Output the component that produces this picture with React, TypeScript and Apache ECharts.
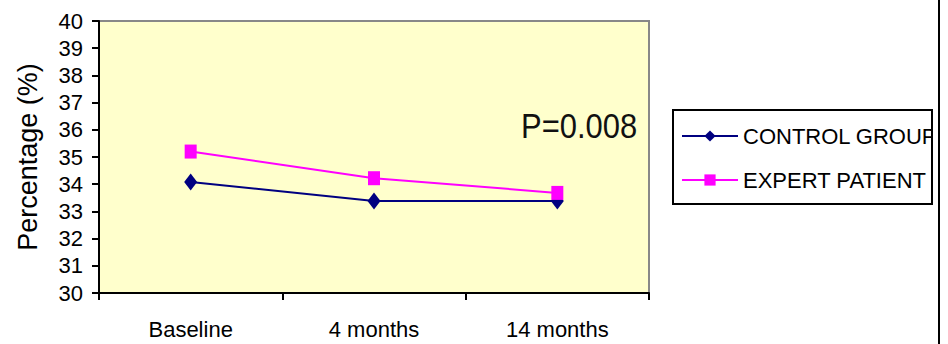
import React, { useEffect, useRef } from "react";
import * as echarts from "echarts";

const categories = ["Baseline", "4 months", "14 months"];
const controlGroup = [34.08, 33.38, 33.38];
const expertPatient = [35.2, 34.22, 33.68];
const seriesNames = ["CONTROL GROUP", "EXPERT PATIENT"];
const annotation = "P=0.008";
const yAxisTitle = "Percentage (%)";

const FONT = "'Liberation Sans', Arial, sans-serif";

export default function App() {
  const ref = useRef<HTMLDivElement>(null);
  useEffect(() => {
    document.body.style.margin = "0";
    const chart = echarts.init(ref.current!, null, { renderer: "svg" });
    chart.setOption({
      animation: false,
      backgroundColor: "#ffffff",
      textStyle: { fontFamily: FONT },
      grid: {
        left: 99,
        top: 21,
        width: 550,
        height: 272,
        show: true,
        backgroundColor: "#FFFFCC",
        borderColor: "#888888",
        borderWidth: 2,
      },
      legend: {
        orient: "vertical",
        left: 676,
        top: 120,
        itemWidth: 56,
        itemHeight: 14,
        itemGap: 22,
        data: seriesNames,
        textStyle: {
          fontFamily: FONT,
          fontSize: 22,
          color: "#000",
        },
      },
      xAxis: {
        type: "category",
        data: categories,
        boundaryGap: true,
        axisLine: { lineStyle: { color: "#000", width: 2 } },
        axisTick: { show: true, length: 7, lineStyle: { color: "#000", width: 2 } },
        axisLabel: { color: "#000", fontSize: 22, margin: 25, fontFamily: FONT },
        splitLine: { show: false },
      },
      yAxis: {
        type: "value",
        min: 30,
        max: 40,
        interval: 1,
        name: yAxisTitle,
        nameLocation: "middle",
        nameRotate: 90,
        nameGap: 58,
        nameTextStyle: { color: "#000", fontSize: 27, fontFamily: FONT },
        axisLine: { show: true, lineStyle: { color: "#000", width: 2 } },
        axisTick: { show: true, length: 7, lineStyle: { color: "#000", width: 2 } },
        axisLabel: { color: "#000", fontSize: 22, margin: 16, fontFamily: FONT },
        splitLine: { show: false },
      },
      series: [
        {
          name: seriesNames[0],
          type: "line",
          data: controlGroup,
          symbol: "diamond",
          symbolSize: [13, 17],
          lineStyle: { color: "#000080", width: 2 },
          itemStyle: { color: "#000080" },
          z: 3,
        },
        {
          name: seriesNames[1],
          type: "line",
          data: expertPatient,
          symbol: "rect",
          symbolSize: [12, 14],
          lineStyle: { color: "#FF00FF", width: 2 },
          itemStyle: { color: "#FF00FF" },
          z: 4,
        },
      ],
      graphic: [
        {
          type: "text",
          x: 521,
          y: 108,
          scaleX: 0.86,
          style: {
            text: annotation,
            fontSize: 36,
            fontFamily: FONT,
            fill: "#111",
          },
          z: 10,
        },
        {
          type: "rect",
          shape: { x: 931, y: 100, width: 7, height: 110 },
          style: { fill: "#ffffff" },
          z: 20,
        },
        {
          type: "rect",
          shape: { x: 673, y: 110, width: 259, height: 94 },
          style: { fill: "none", stroke: "#000", lineWidth: 2 },
          z: 21,
        },
        {
          type: "line",
          shape: { x1: 939, y1: 0, x2: 939, y2: 344 },
          style: { stroke: "#000", lineWidth: 2 },
          z: 21,
        },
      ],
    });
    return () => chart.dispose();
  }, []);
  return (
    <div
      ref={ref}
      style={{ position: "fixed", left: 0, top: 0, width: 948, height: 344 }}
    />
  );
}
